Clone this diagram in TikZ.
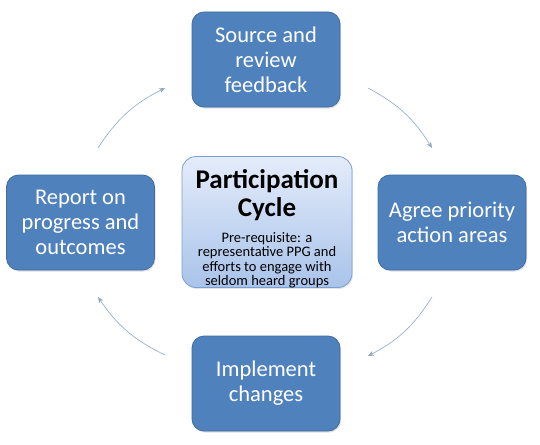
\documentclass[tikz,border=0pt]{standalone}
\usepackage{fontspec}
\setmainfont{Carlito}
\usetikzlibrary{arrows.meta,shadows}
\definecolor{boxblue}{HTML}{4F81BD}
\definecolor{boxedge}{HTML}{3F6CA3}
\definecolor{arrowc}{HTML}{8FA6C8}
\definecolor{ctop}{HTML}{E4ECFA}
\definecolor{cbot}{HTML}{A9C3EA}
\definecolor{cedge}{HTML}{7C9FD3}
\tikzset{
  stagebox/.style={draw=boxedge, line width=0.8pt, fill=boxblue, rounded corners=12pt,
    minimum width=148pt, minimum height=95pt, text=white, align=center,
    font=\fontsize{22.5}{25}\selectfont, drop shadow={opacity=0.25, shadow xshift=1pt, shadow yshift=-1.5pt}},
  centerbox/.style={draw=cedge, line width=0.8pt, top color=ctop, bottom color=cbot,
    rounded corners=14pt, minimum width=170pt, minimum height=131pt, align=center,
    drop shadow={opacity=0.2, shadow xshift=1pt, shadow yshift=-1.5pt}},
  cyclearrow/.style={draw=arrowc, line width=0.6pt, -{Stealth[length=6pt,width=5pt]}}
}
\begin{document}
\begin{tikzpicture}[x=1pt,y=-1pt]
\useasboundingbox (0,0) rectangle (540,444);
\node[stagebox] (top) at (266,59.5) {Source and\\review\\feedback};
\node[stagebox] (right) at (452,222.5) {Agree priority\\action areas};
\node[stagebox] (bottom) at (266,383.5) {Implement\\changes};
\node[stagebox] (left) at (80.5,222.5) {Report on\\progress and\\outcomes};
\node[centerbox] (center) at (267,222) {};
\node[align=center, font=\bfseries\fontsize{27}{28.5}\selectfont, inner sep=0pt] (title) at (267,195) {Participation\\Cycle};
\node[align=center, font=\fontsize{14.5}{14.5}\selectfont, anchor=north, inner sep=0pt] (sub) at ([yshift=-11pt]title.south) {Pre-requisite: a\\representative PPG and\\efforts to engage with\\seldom heard groups};
\coordinate (a1s) at (368,88);
\coordinate (a1e) at (432,148);
\coordinate (a2s) at (432,297);
\coordinate (a2e) at (368,356);
\coordinate (a3s) at (165,355);
\coordinate (a3e) at (98,297);
\coordinate (a4s) at (98,148);
\coordinate (a4e) at (165,88);
\draw[cyclearrow] (a1s) to[bend left=15] (a1e);
\draw[cyclearrow] (a2s) to[bend left=15] (a2e);
\draw[cyclearrow] (a3s) to[bend left=15] (a3e);
\draw[cyclearrow] (a4s) to[bend left=15] (a4e);
\end{tikzpicture}
\end{document}
